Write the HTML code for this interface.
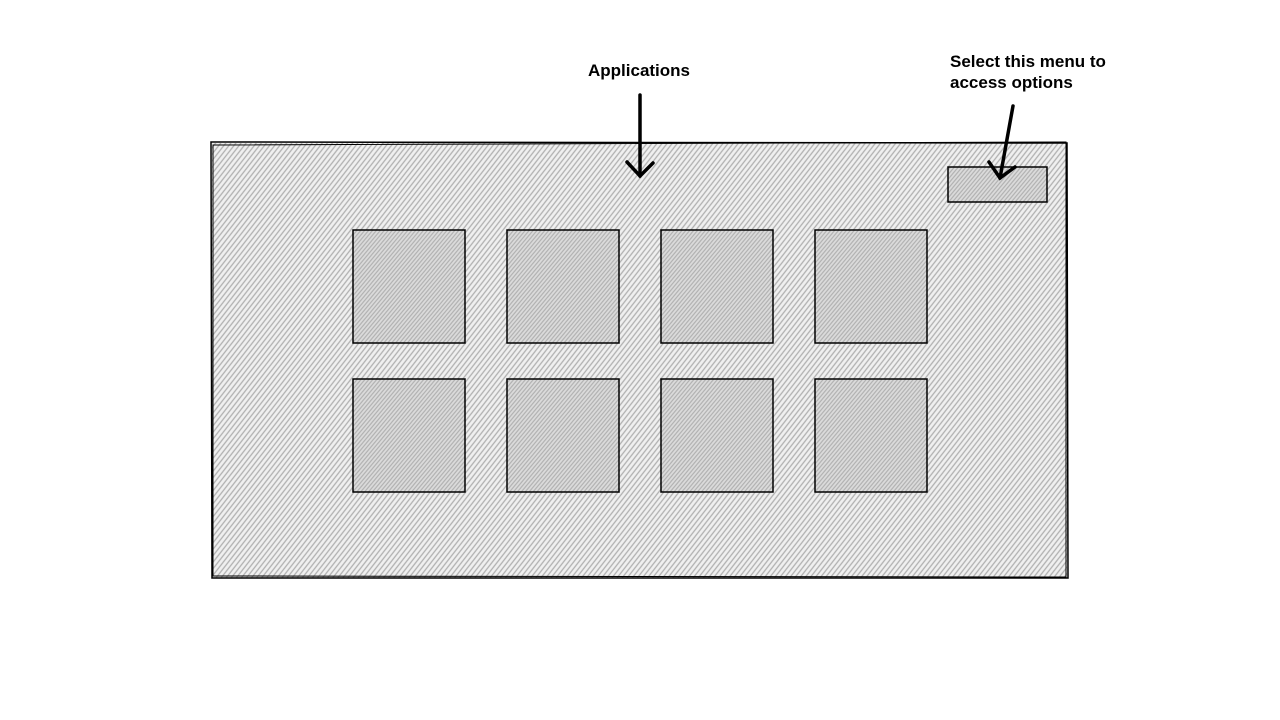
<!DOCTYPE html>
<html><head><meta charset="utf-8"><style>
html,body{margin:0;padding:0;background:#fff;width:1280px;height:720px;overflow:hidden}
text{font-family:"Liberation Sans",sans-serif;font-weight:bold;font-size:17px;fill:#000}
</style></head><body>
<svg width="1280" height="720" viewBox="0 0 1280 720" xmlns="http://www.w3.org/2000/svg">
<defs>
<pattern id="h1" width="4" height="4" patternUnits="userSpaceOnUse" patternTransform="rotate(38)">
<rect width="4" height="4" fill="#f0f0f0"/><line x1="2" y1="-1" x2="2" y2="5" stroke="#b0b0b0" stroke-width="1.3"/>
</pattern>
<pattern id="h2" width="3" height="3" patternUnits="userSpaceOnUse" patternTransform="rotate(40)">
<rect width="3" height="3" fill="#dcdcdc"/><line x1="1.5" y1="-1" x2="1.5" y2="4" stroke="#b0b0b0" stroke-width="1.2"/>
</pattern>
</defs>
<rect x="212" y="143" width="855" height="435" fill="url(#h1)"/>
<path d="M211 142 L1067 143 L1068 578 L212 578 Z" fill="none" stroke="#000" stroke-width="1.5"/>
<path d="M213 145 L1066 142 L1066 577 L213 576 Z" fill="none" stroke="#000" stroke-width="1"/>
<g fill="url(#h2)" stroke="#000" stroke-width="1.5">
<rect x="353" y="230" width="112" height="113"/>
<rect x="507" y="230" width="112" height="113"/>
<rect x="661" y="230" width="112" height="113"/>
<rect x="815" y="230" width="112" height="113"/>
<rect x="353" y="379" width="112" height="113"/>
<rect x="507" y="379" width="112" height="113"/>
<rect x="661" y="379" width="112" height="113"/>
<rect x="815" y="379" width="112" height="113"/>
<rect x="948" y="167" width="99" height="35"/>
</g>
<g stroke="#000" stroke-width="3.5" fill="none" stroke-linecap="round">
<line x1="640" y1="95" x2="640" y2="176"/>
<polyline points="627,162 640,176 653,163"/>
<line x1="1013" y1="106" x2="1000" y2="178"/>
<polyline points="989,162 1000,178 1015,167"/>
</g>
<text x="588" y="76">Applications</text>
<text x="950" y="67">Select this menu to</text>
<text x="950" y="88">access options</text>
</svg>
</body></html>
